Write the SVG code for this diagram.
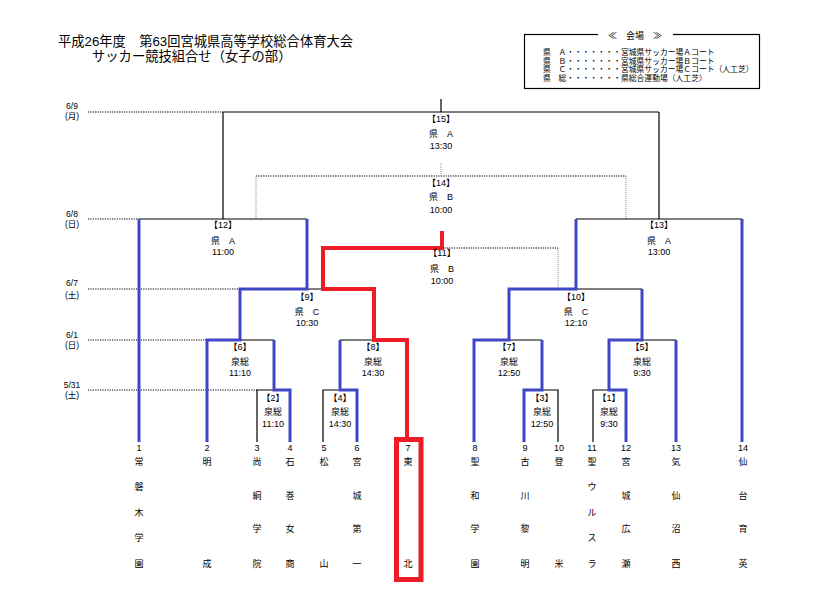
<svg xmlns="http://www.w3.org/2000/svg" width="825" height="598" viewBox="0 0 825 598">
<style>
text{font-family:"Liberation Sans","Noto Sans CJK JP",sans-serif;fill:#000}
.t{font-size:13.3px}
.lg{font-size:7.8px}
.m{font-size:9px;text-anchor:middle}
.d{font-size:8.5px;text-anchor:middle}
.n{font-size:9px;text-anchor:middle}
.k{fill:none;stroke:#000;stroke-width:1.2}
.dt{fill:none;stroke:#000;stroke-width:1.2;stroke-dasharray:1.2 1.2}
.gd{fill:none;stroke:#888;stroke-width:1;stroke-dasharray:1 1}
.b{fill:none;stroke:#4046c8;stroke-width:3;stroke-linejoin:miter}
.r{fill:none;stroke:#ee1c25;stroke-width:4;stroke-linejoin:miter}
</style>
<rect width="825" height="598" fill="#fff"/>
<g id="title">
<text class="t" x="58" y="46" textLength="295" lengthAdjust="spacingAndGlyphs">平成26年度　第63回宮城県高等学校総合体育大会</text>
<text class="t" x="92" y="61">サッカー競技組合せ（女子の部）</text>
</g>
<g id="legend">
<rect x="524.5" y="34.5" width="235" height="54" fill="none" stroke="#000" stroke-width="1.2"/>
<rect x="598" y="29" width="75" height="11" fill="#fff"/>
<text class="m" x="635" y="39">≪　会場　≫</text>
<text class="lg" x="543" y="55">県　Ａ・・・・・・・宮城県サッカー場Ａコート</text>
<text class="lg" x="543" y="63.5">県　Ｂ・・・・・・・宮城県サッカー場Ｂコート</text>
<text class="lg" x="543" y="72">県　Ｃ・・・・・・・宮城県サッカー場Ｃコート（人工芝）</text>
<text class="lg" x="543" y="80.5">県　総・・・・・・・県総合運動場（人工芝）</text>
</g>
<g id="dates">
<text class="d" x="72" y="109">6/9</text><text class="d" x="72" y="119">(月)</text>
<text class="d" x="72" y="217">6/8</text><text class="d" x="72" y="227">(日)</text>
<text class="d" x="72" y="286">6/7</text><text class="d" x="72" y="298">(土)</text>
<text class="d" x="72" y="338">6/1</text><text class="d" x="72" y="348">(日)</text>
<text class="d" x="72" y="388">5/31</text><text class="d" x="72" y="398">(土)</text>
</g>
<g id="connectors">
<path class="dt" d="M88 112H223M88 219H139M88 289H240M88 340H207M88 390H257"/>
<path class="k" d="M441 99V112M223 112H659M223 112V219M659 112V219"/>
<path class="dt" d="M256 176H626"/>
<path class="gd" d="M256 176V219M626 176V219M441 163V176M558 248V289"/>
<path class="dt" d="M442 248H558"/>
<path class="k" d="M139 219H307M576 219H742M240 289H374M509 289H642M207 340H274M340 340H407M474 340H542M609 340H676"/>
<path class="k" d="M257 442V390H290M323 442V390H357M558 442V390H524M593 442V390H626"/>
<path class="b" d="M139 219V442M742 219V442"/>
<path class="b" d="M207 442V340H240V289H307V219"/>
<path class="b" d="M290 442V390H274V340"/>
<path class="b" d="M357 442V390H340V340"/>
<path class="b" d="M474 442V340H509V289H576V219"/>
<path class="b" d="M524 442V390H542V340"/>
<path class="b" d="M626 442V390H609V340H642V289"/>
<path class="b" d="M676 442V340"/>
<path class="r" d="M407 437V340H374V289H323V248H442V231"/>
<rect x="396.5" y="439.5" width="24.5" height="140" fill="none" stroke="#ee1c25" stroke-width="5"/>
</g>
<g id="m15"><text class="m" x="441" y="122">【15】</text><text class="m" x="441" y="137">県　A</text><text class="m" x="441" y="149">13:30</text></g>
<g id="m14"><text class="m" x="441" y="186">【14】</text><text class="m" x="441" y="200">県　B</text><text class="m" x="441" y="213">10:00</text></g>
<g id="m12"><text class="m" x="223" y="228">【12】</text><text class="m" x="223" y="244">県　A</text><text class="m" x="223" y="255">11:00</text></g>
<g id="m13"><text class="m" x="659" y="228">【13】</text><text class="m" x="659" y="244">県　A</text><text class="m" x="659" y="255">13:00</text></g>
<g id="m11"><text class="m" x="442" y="256">【11】</text><text class="m" x="442" y="272">県　B</text><text class="m" x="442" y="284">10:00</text></g>
<g id="m9"><text class="m" x="307" y="300">【9】</text><text class="m" x="307" y="315">県　C</text><text class="m" x="307" y="326">10:30</text></g>
<g id="m10"><text class="m" x="576" y="300">【10】</text><text class="m" x="576" y="315">県　C</text><text class="m" x="576" y="326">12:10</text></g>
<g id="m6"><text class="m" x="240" y="350">【6】</text><text class="m" x="240" y="365">泉総</text><text class="m" x="240" y="376">11:10</text></g>
<g id="m8"><text class="m" x="373" y="350">【8】</text><text class="m" x="373" y="365">泉総</text><text class="m" x="373" y="376">14:30</text></g>
<g id="m7"><text class="m" x="509" y="350">【7】</text><text class="m" x="509" y="365">泉総</text><text class="m" x="509" y="376">12:50</text></g>
<g id="m5"><text class="m" x="642" y="350">【5】</text><text class="m" x="642" y="365">泉総</text><text class="m" x="642" y="376">9:30</text></g>
<g id="m2"><text class="m" x="273" y="401">【2】</text><text class="m" x="273" y="415">泉総</text><text class="m" x="273" y="427">11:10</text></g>
<g id="m4"><text class="m" x="340" y="401">【4】</text><text class="m" x="340" y="415">泉総</text><text class="m" x="340" y="427">14:30</text></g>
<g id="m3"><text class="m" x="542" y="401">【3】</text><text class="m" x="542" y="415">泉総</text><text class="m" x="542" y="427">12:50</text></g>
<g id="m1"><text class="m" x="609" y="401">【1】</text><text class="m" x="609" y="415">泉総</text><text class="m" x="609" y="427">9:30</text></g>
<g id="t1"><text class="n" x="139" y="451">1</text><text class="n" x="139" y="464.5">常</text><text class="n" x="139" y="489.5">磐</text><text class="n" x="139" y="515.5">木</text><text class="n" x="139" y="540.5">学</text><text class="n" x="139" y="566.5">園</text></g>
<g id="t2"><text class="n" x="207" y="451">2</text><text class="n" x="207" y="464.5">明</text><text class="n" x="207" y="566.5">成</text></g>
<g id="t3"><text class="n" x="257" y="451">3</text><text class="n" x="257" y="464.5">尚</text><text class="n" x="257" y="498.5">絅</text><text class="n" x="257" y="531.5">学</text><text class="n" x="257" y="566.5">院</text></g>
<g id="t4"><text class="n" x="290" y="451">4</text><text class="n" x="290" y="464.5">石</text><text class="n" x="290" y="498.5">巻</text><text class="n" x="290" y="531.5">女</text><text class="n" x="290" y="566.5">商</text></g>
<g id="t5"><text class="n" x="324" y="451">5</text><text class="n" x="324" y="464.5">松</text><text class="n" x="324" y="566.5">山</text></g>
<g id="t6"><text class="n" x="357" y="451">6</text><text class="n" x="357" y="464.5">宮</text><text class="n" x="357" y="498.5">城</text><text class="n" x="357" y="531.5">第</text><text class="n" x="357" y="566.5">一</text></g>
<g id="t7"><text class="n" x="408" y="451">7</text><text class="n" x="408" y="464.5">東</text><text class="n" x="408" y="566.5">北</text></g>
<g id="t8"><text class="n" x="475" y="451">8</text><text class="n" x="475" y="464.5">聖</text><text class="n" x="475" y="498.5">和</text><text class="n" x="475" y="531.5">学</text><text class="n" x="475" y="566.5">園</text></g>
<g id="t9"><text class="n" x="525" y="451">9</text><text class="n" x="525" y="464.5">古</text><text class="n" x="525" y="498.5">川</text><text class="n" x="525" y="531.5">黎</text><text class="n" x="525" y="566.5">明</text></g>
<g id="t10"><text class="n" x="559" y="451">10</text><text class="n" x="559" y="464.5">登</text><text class="n" x="559" y="566.5">米</text></g>
<g id="t11"><text class="n" x="592" y="451">11</text><text class="n" x="592" y="464.5">聖</text><text class="n" x="592" y="489.5">ウ</text><text class="n" x="592" y="515.5">ル</text><text class="n" x="592" y="540.5">ス</text><text class="n" x="592" y="566.5">ラ</text></g>
<g id="t12"><text class="n" x="626" y="451">12</text><text class="n" x="626" y="464.5">宮</text><text class="n" x="626" y="498.5">城</text><text class="n" x="626" y="531.5">広</text><text class="n" x="626" y="566.5">瀬</text></g>
<g id="t13"><text class="n" x="676" y="451">13</text><text class="n" x="676" y="464.5">気</text><text class="n" x="676" y="498.5">仙</text><text class="n" x="676" y="531.5">沼</text><text class="n" x="676" y="566.5">西</text></g>
<g id="t14"><text class="n" x="743" y="451">14</text><text class="n" x="743" y="464.5">仙</text><text class="n" x="743" y="498.5">台</text><text class="n" x="743" y="531.5">育</text><text class="n" x="743" y="566.5">英</text></g>
</svg>
